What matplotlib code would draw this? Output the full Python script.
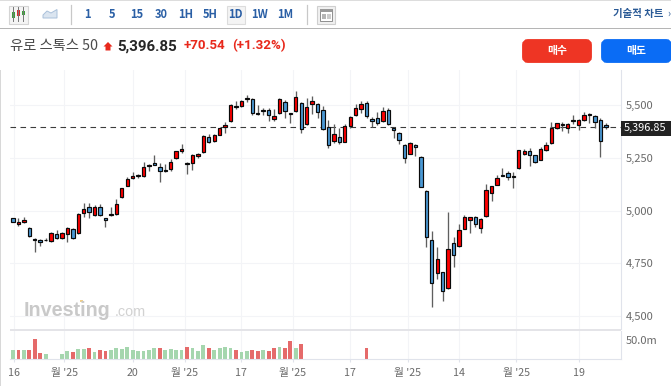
import matplotlib
matplotlib.use("Agg")
import matplotlib.pyplot as plt
from matplotlib.patches import Rectangle, FancyBboxPatch, Polygon

plt.rcParams['font.family'] = ['Noto Sans CJK KR', 'DejaVu Sans']

opens = [4964,4936,4948,4920,4866,4860,4863,4857,4890,4869,4890,4915,4893,4991,5016,4982,5016,4964,4980,4983,
         5065,5119,5154,5168,5165,5211,5228,5209,5194,5198,5249,5285,5228,5227,5260,5279,5350,5330,5361,5399,
         5424,5496,5496,5535,5529,5462,5477,5478,5434,5462,5516,5462,5472,5513,5412,5508,5505,5478,5399,5333,
         5349,5328,5402,5455,5483,5510,5437,5442,5426,5480,5394,5371,5312,5271,5312,5257,5095,4860,4703,4708,
         4632,4846,4831,4915,4956,4969,4920,4974,5083,5124,5170,5178,5165,5201,5271,5282,5263,5241,5287,5320,
         5391,5412,5391,5429,5407,5432,5458,5451,5429,5407]
highs = [4965,4964,4969,4925,4872,4866,4869,4899,4907,4901,4923,4920,4988,5035,5035,5027,5032,4967,5016,5054,
         5110,5159,5182,5176,5231,5224,5263,5228,5220,5246,5285,5315,5232,5271,5273,5360,5364,5363,5394,5420,
         5507,5522,5526,5549,5534,5502,5489,5486,5483,5534,5526,5466,5568,5518,5534,5545,5510,5497,5431,5410,
         5391,5410,5450,5507,5521,5521,5443,5470,5494,5489,5399,5375,5315,5328,5315,5259,5099,4904,4827,4711,
         4993,4877,4937,4980,4972,4975,4967,5127,5119,5171,5201,5189,5186,5290,5293,5298,5266,5304,5326,5423,
         5418,5421,5415,5454,5434,5467,5465,5454,5439,5415]
lows = [4946,4928,4944,4874,4806,4835,4857,4853,4866,4865,4850,4866,4890,4972,4967,4975,4975,4921,4975,4980,
        5062,5116,5149,5157,5162,5189,5216,5137,5182,5190,5246,5276,5176,5194,5249,5276,5320,5326,5358,5367,
        5423,5483,5492,5515,5455,5455,5455,5428,5428,5458,5442,5415,5467,5371,5407,5458,5439,5383,5300,5323,
        5317,5325,5391,5450,5466,5442,5396,5407,5420,5409,5344,5317,5225,5268,5262,5112,4830,4545,4675,4574,
        4629,4735,4828,4912,4893,4925,4896,4971,5048,5121,5163,5146,5110,5200,5265,5214,5228,5239,5284,5317,
        5388,5380,5367,5412,5383,5428,5418,5391,5257,5386]
closes = [4947,4945,4958,4880,4863,4852,4861,4896,4869,4896,4920,4872,4985,5010,4996,5020,4978,4958,4983,5031,
          5107,5149,5165,5163,5206,5219,5219,5190,5189,5233,5282,5292,5220,5266,5269,5356,5325,5358,5391,5409,
          5500,5492,5521,5532,5462,5459,5472,5455,5450,5529,5475,5458,5541,5387,5491,5521,5470,5387,5312,5363,
          5328,5404,5445,5486,5508,5448,5426,5415,5475,5412,5383,5334,5249,5320,5304,5114,4877,4656,4773,4621,
          4819,4789,4910,4969,4969,4936,4959,5097,5116,5154,5167,5160,5162,5287,5284,5265,5231,5292,5312,5391,
          5415,5405,5412,5424,5429,5454,5456,5423,5330,5396.85]

vol_index = [0,1,2,3,4,5,6,9,10,11,12,13,14,15,16,17,18,19,20,21,22,23,24,25,26,27,28,29,30,31,32,33,34,35,36,37,
             38,39,40,41,42,43,44,45,46,47,48,49,50,51,52,53,65]
vol_values = [24.5,24.5,24.5,24.5,52.7,15.5,11.8,11.8,20,17.3,26.4,26.4,27.3,17.3,24.5,20,24.5,27.3,25.5,31.8,
              24.5,21.8,21.8,22.7,27.3,27.3,22.7,25.5,24.5,22.7,32.7,30,20,36.4,27.3,22.7,27.3,31.8,28.2,24.5,
              17.3,21.8,24.5,20,24.5,20,29.1,31.8,30,46.4,27.3,40.9,30]
vol_up = ['g','r','g','r','r','r','g','g','g','r','g','g','r','g','r','r','g','g','g','g','g','g','g','g','g','r',
          'g','g','g','g','r','g','g','g','r','g','g','g','g','r','g','g','r','r','g','r','r','g','r','r','g','r','r']

price_ticks = [5500, 5250, 5000, 4750, 4500]
price_labels = ['5,500', '5,250', '5,000', '4,750', '4,500']
date_ticks = [0.1, 9.4, 22, 31.6, 41.9, 51.4, 62, 72.6, 82, 92.5, 104]
date_labels = ['16', "월 '25", '20', "월 '25", '17', "월 '25", '17', "월 '25", '14', "월 '25", '19']
last_price = 5396.85

W, H = 671, 386
fig = plt.figure(figsize=(W/100, H/100), dpi=100, facecolor='white')

def axpx(x0, y0, x1, y1, **kw):
    return fig.add_axes([x0/W, 1-y1/H, (x1-x0)/W, (y1-y0)/H], **kw)

XL, XR = -0.55, 111.7
GRID = '#f3f4f7'
BORDER = '#e0e3eb'

ax = axpx(10, 70, 620.5, 329)
ax.set_xlim(XL, XR)
ax.set_ylim(4439, 5668)
ax.set_yticks(price_ticks, price_labels)
ax.set_xticks(date_ticks)
ax.tick_params(axis='x', length=0, labelbottom=False)
ax.yaxis.tick_right()
ax.tick_params(axis='y', length=0, pad=3.5, labelsize=8, labelcolor='#6a6a6a')
ax.grid(True, color=GRID, lw=0.8)
ax.set_axisbelow(True)
for s in ['top', 'left', 'bottom']:
    ax.spines[s].set_visible(False)
ax.spines['right'].set_color(BORDER)

ax.axhline(last_price, color='#3c3c3c', lw=0.8, dashes=(5, 4), zorder=1.5)

idx = list(range(len(opens)))
ax.vlines(idx, lows, highs, color='#5f5f5f', lw=0.95, zorder=2)
colors = ['#ff0000' if c >= o else '#4a98d4' for o, c in zip(opens, closes)]
ax.bar(idx, [abs(c-o) for o, c in zip(opens, closes)], bottom=[min(o, c) for o, c in zip(opens, closes)],
       width=0.62, color=colors, edgecolor='#0a0a0a', linewidth=0.85, zorder=3)

vx = axpx(10, 331, 620.5, 358.5)
vx.set_xlim(XL, XR)
vx.set_ylim(0, 75)
vx.set_yticks([50], ['50.0m'])
vx.set_xticks(date_ticks, date_labels)
vx.yaxis.tick_right()
vx.tick_params(axis='y', length=0, pad=3.5, labelsize=8, labelcolor='#6a6a6a')
vx.tick_params(axis='x', length=2.5, color=BORDER, pad=4.5, labelsize=7.7, labelcolor='#6a6a6a')
vx.grid(True, axis='x', color=GRID, lw=0.8)
vx.set_axisbelow(True)
for s in ['top', 'left']:
    vx.spines[s].set_visible(False)
vx.spines['right'].set_color(BORDER)
vx.spines['bottom'].set_color(BORDER)
vx.bar(vol_index, vol_values, width=0.7,
       color=['#e56a6a' if u == 'r' else '#a5d6ae' for u in vol_up], zorder=2)

# page chrome, in pixel coordinates
c = fig.add_axes([0, 0, 1, 1], facecolor='none', zorder=5)
c.set_xlim(0, W)
c.set_ylim(H, 0)
c.axis('off')
c.add_patch(Rectangle((0, 0), W, 1.2, color='#dddddd', lw=0))
c.add_patch(Rectangle((0, 70), 1.2, H-70, color='#d8d8d8', lw=0))
c.add_patch(Rectangle((0, 27.6), W, 1, color='#b5b5b5', lw=0))
c.add_patch(Rectangle((10, 329), 610.5, 1.8, color='#e4e4e8', lw=0))

# toolbar
c.add_patch(Rectangle((8.5, 5.5), 19, 18, fc='#f4f4f4', ec='#d4d4d4', lw=0.8))
for x, y0, y1, col in [(13, 12, 18, '#3aa03a'), (18, 10, 16, '#d83030'), (23, 10.5, 15, '#3aa03a')]:
    c.plot([x, x], [7, 21], color='#777777', lw=0.7)
    c.add_patch(Rectangle((x-1.5, y0), 3, y1-y0, color=col, lw=0))
c.add_patch(Polygon([(43, 15), (47, 11), (51, 13), (57, 9.5), (57, 18), (43, 18)], fc='#dbe5f0', ec='#a9c0da', lw=0.7))
for x in (70.5, 306.5):
    c.plot([x, x], [5, 23.5], color='#c8c8c8', lw=0.9)
c.add_patch(Rectangle((226.5, 5.5), 18.5, 18, fc='#f4f4f4', ec='#dcdcdc', lw=0.8))
for lab, x in zip(['1', '5', '15', '30', '1H', '5H', '1D', '1W', '1M'],
                  [87.5, 112, 136.5, 161, 186, 210.5, 235.5, 260, 285]):
    c.text(x, 14, lab, color='#2a5fa5', fontsize=8, fontweight='bold', ha='center', va='center')
c.add_patch(Rectangle((317, 5.5), 18, 18, fc='#f0f0f0', ec='#cfcfcf', lw=0.8))
c.add_patch(Rectangle((320, 8.5), 12, 12, fc='white', ec='#8e8e8e', lw=0.7))
c.add_patch(Rectangle((320, 8.5), 12, 3, fc='#9a9a9a', lw=0))
c.add_patch(Rectangle((321.5, 13.5), 4, 5.5, fc='#b5b5b5', lw=0))
c.add_patch(Rectangle((327, 13.5), 4, 5.5, fc='#cccccc', lw=0))
c.text(663.5, 13.5, '기술적 차트', color='#2a5a96', fontsize=7.5, fontweight='bold', ha='right', va='center')
c.text(670.5, 13.5, '›', color='#2a5a96', fontsize=7, ha='right', va='center')

# quote line
c.text(10, 46, '유로 스톡스 50', color='#4a4a4a', fontsize=10.3, ha='left', va='center')
c.add_patch(Polygon([(108, 42), (112.5, 46.5), (110.5, 46.5), (110.5, 50.5), (105.5, 50.5), (105.5, 46.5), (103.5, 46.5)],
                    fc='#e8291c', lw=0))
c.text(117, 46.5, '5,396.85', color='#262626', fontsize=10.9, fontweight='bold', ha='left', va='center',
       family='Roboto')
c.text(184, 45.5, '+70.54', color='#e8291c', fontsize=9.6, fontweight='bold', ha='left', va='center', family='Roboto')
c.text(232, 45.5, '(+1.32%)', color='#e8291c', fontsize=9.6, fontweight='bold', ha='left', va='center', family='Roboto')

# order buttons
for x0, x1, col, lab in [(522, 592, '#ee3524', '매수'), (601, 672, '#0a6cf5', '매도')]:
    c.add_patch(FancyBboxPatch((x0+3, 42), x1-x0-6, 18, boxstyle='round,pad=0,rounding_size=3',
                               mutation_aspect=1, fc=col, ec=col, lw=4.2))
    c.text((x0+x1)/2, 51, lab, color='white', fontsize=7.8, fontweight='bold', ha='center', va='center')

# watermark
c.text(24, 310, 'Investing', color='#c9c9c9', fontsize=14.2, fontweight='bold', ha='left', va='center',
       family='Liberation Sans')
c.text(115, 312.5, '.com', color='#d2d2d2', fontsize=10.4, ha='left', va='center', family='Liberation Sans')
c.add_patch(Rectangle((80, 300), 3, 2.4, color='#f0cf8a', lw=0))

# last price tag
c.add_patch(Rectangle((620.5, 121), 50, 14.5, color='#222222', lw=0))
c.text(645.5, 128, '5,396.85', color='white', fontsize=7.9, fontweight='medium', ha='center', va='center')

fig.savefig('out.png', dpi=100, facecolor='white')
